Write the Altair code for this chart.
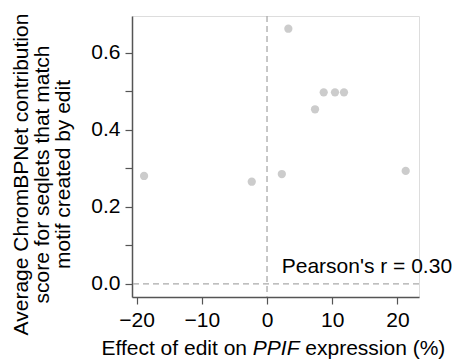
import altair as alt
import pandas as pd

# data
effect_pct = [-18.85, -2.34, 2.27, 3.27, 7.36, 8.69, 10.42, 11.8, 21.26]
contribution = [0.280, 0.265, 0.285, 0.662, 0.453, 0.497, 0.497, 0.497, 0.293]

x_ticks = [-20, -10, 0, 10, 20]
y_ticks = [0.0, 0.1, 0.2, 0.3, 0.4, 0.5, 0.6]
x_domain = [-20.7, 23.3]
y_domain = [-0.034, 0.695]

pearson_label = "Pearson's r = 0.30"
pearson_pos = [2.25, 0.044]

y_title = ["Average ChromBPNet contribution", "score for seqlets that match", "motif created by edit"]

FONT = "Liberation Sans"
FS = 21
AXC = "#555555"

df = pd.DataFrame({"x": effect_pct, "y": contribution})

xs = alt.Scale(domain=x_domain, nice=False, zero=False)
ys = alt.Scale(domain=y_domain, nice=False, zero=False)

base = alt.Chart(df)

points = base.mark_circle(size=68, color="#cccccc", opacity=1).encode(
    x=alt.X("x:Q", scale=xs, axis=alt.Axis(
        values=x_ticks, title=None, grid=False, labelFontSize=FS, labelFont=FONT,
        labelColor="black", tickSize=7, tickColor=AXC, domainColor=AXC,
        tickWidth=1.2, domainWidth=1.5, labelPadding=5, labelFlush=False)),
    y=alt.Y("y:Q", scale=ys, axis=alt.Axis(
        values=y_ticks, grid=False, labelFontSize=FS, labelFont=FONT,
        labelColor="black", tickSize=7, tickColor=AXC, domainColor=AXC,
        tickWidth=1.2, domainWidth=1.5, labelPadding=5, labelFlush=False,
        labelExpr="round(datum.value*10) % 2 == 0 ? format(datum.value, '.1f') : ''",
        title=y_title, titleFont=FONT, titleFontSize=FS, titleFontWeight="normal",
        titleColor="black", titleLineHeight=21, titleAngle=270, titleAlign="center",
        titleBaseline="top", titleX=-121.5, titleY=158)),
)

vrule = alt.Chart(pd.DataFrame({"v": [0]})).mark_rule(
    color="#aaaaaa", strokeDash=[6, 4], strokeWidth=1.3).encode(
    x=alt.X("v:Q", scale=xs))
hrule = alt.Chart(pd.DataFrame({"h": [0]})).mark_rule(
    color="#aaaaaa", strokeDash=[6, 4], strokeWidth=1.3).encode(
    y=alt.Y("h:Q", scale=ys))

ann = alt.Chart(pd.DataFrame({"t": [pearson_label], "x": [pearson_pos[0]], "y": [pearson_pos[1]]})).mark_text(
    align="left", baseline="middle", font=FONT, fontSize=FS, color="black").encode(
    x=alt.X("x:Q", scale=xs), y=alt.Y("y:Q", scale=ys), text="t:N")

t1 = alt.Chart(pd.DataFrame({"t": ["Effect of edit on"]})).mark_text(
    align="right", baseline="alphabetic", font=FONT, fontSize=FS, color="black").encode(
    x=alt.value(115), y=alt.value(339), text="t:N")
t2 = alt.Chart(pd.DataFrame({"t": ["PPIF"]})).mark_text(
    align="left", baseline="alphabetic", font=FONT, fontSize=FS, fontStyle="italic", color="black").encode(
    x=alt.value(120.8), y=alt.value(339), text="t:N")
t3 = alt.Chart(pd.DataFrame({"t": ["expression (%)"]})).mark_text(
    align="left", baseline="alphabetic", font=FONT, fontSize=FS, color="black").encode(
    x=alt.value(173.3), y=alt.value(339), text="t:N")

chart = alt.layer(points, vrule, hrule, ann, t1, t2, t3).resolve_scale(x="shared", y="shared").properties(
    width=287, height=281,
    autosize=alt.AutoSizeParams(type="none"),
    padding={"left": 132, "top": 16, "right": 33, "bottom": 63},
).configure_view(strokeWidth=0).configure(background="white")

chart.save("out.html", embed_options={"renderer": "svg", "actions": False})
